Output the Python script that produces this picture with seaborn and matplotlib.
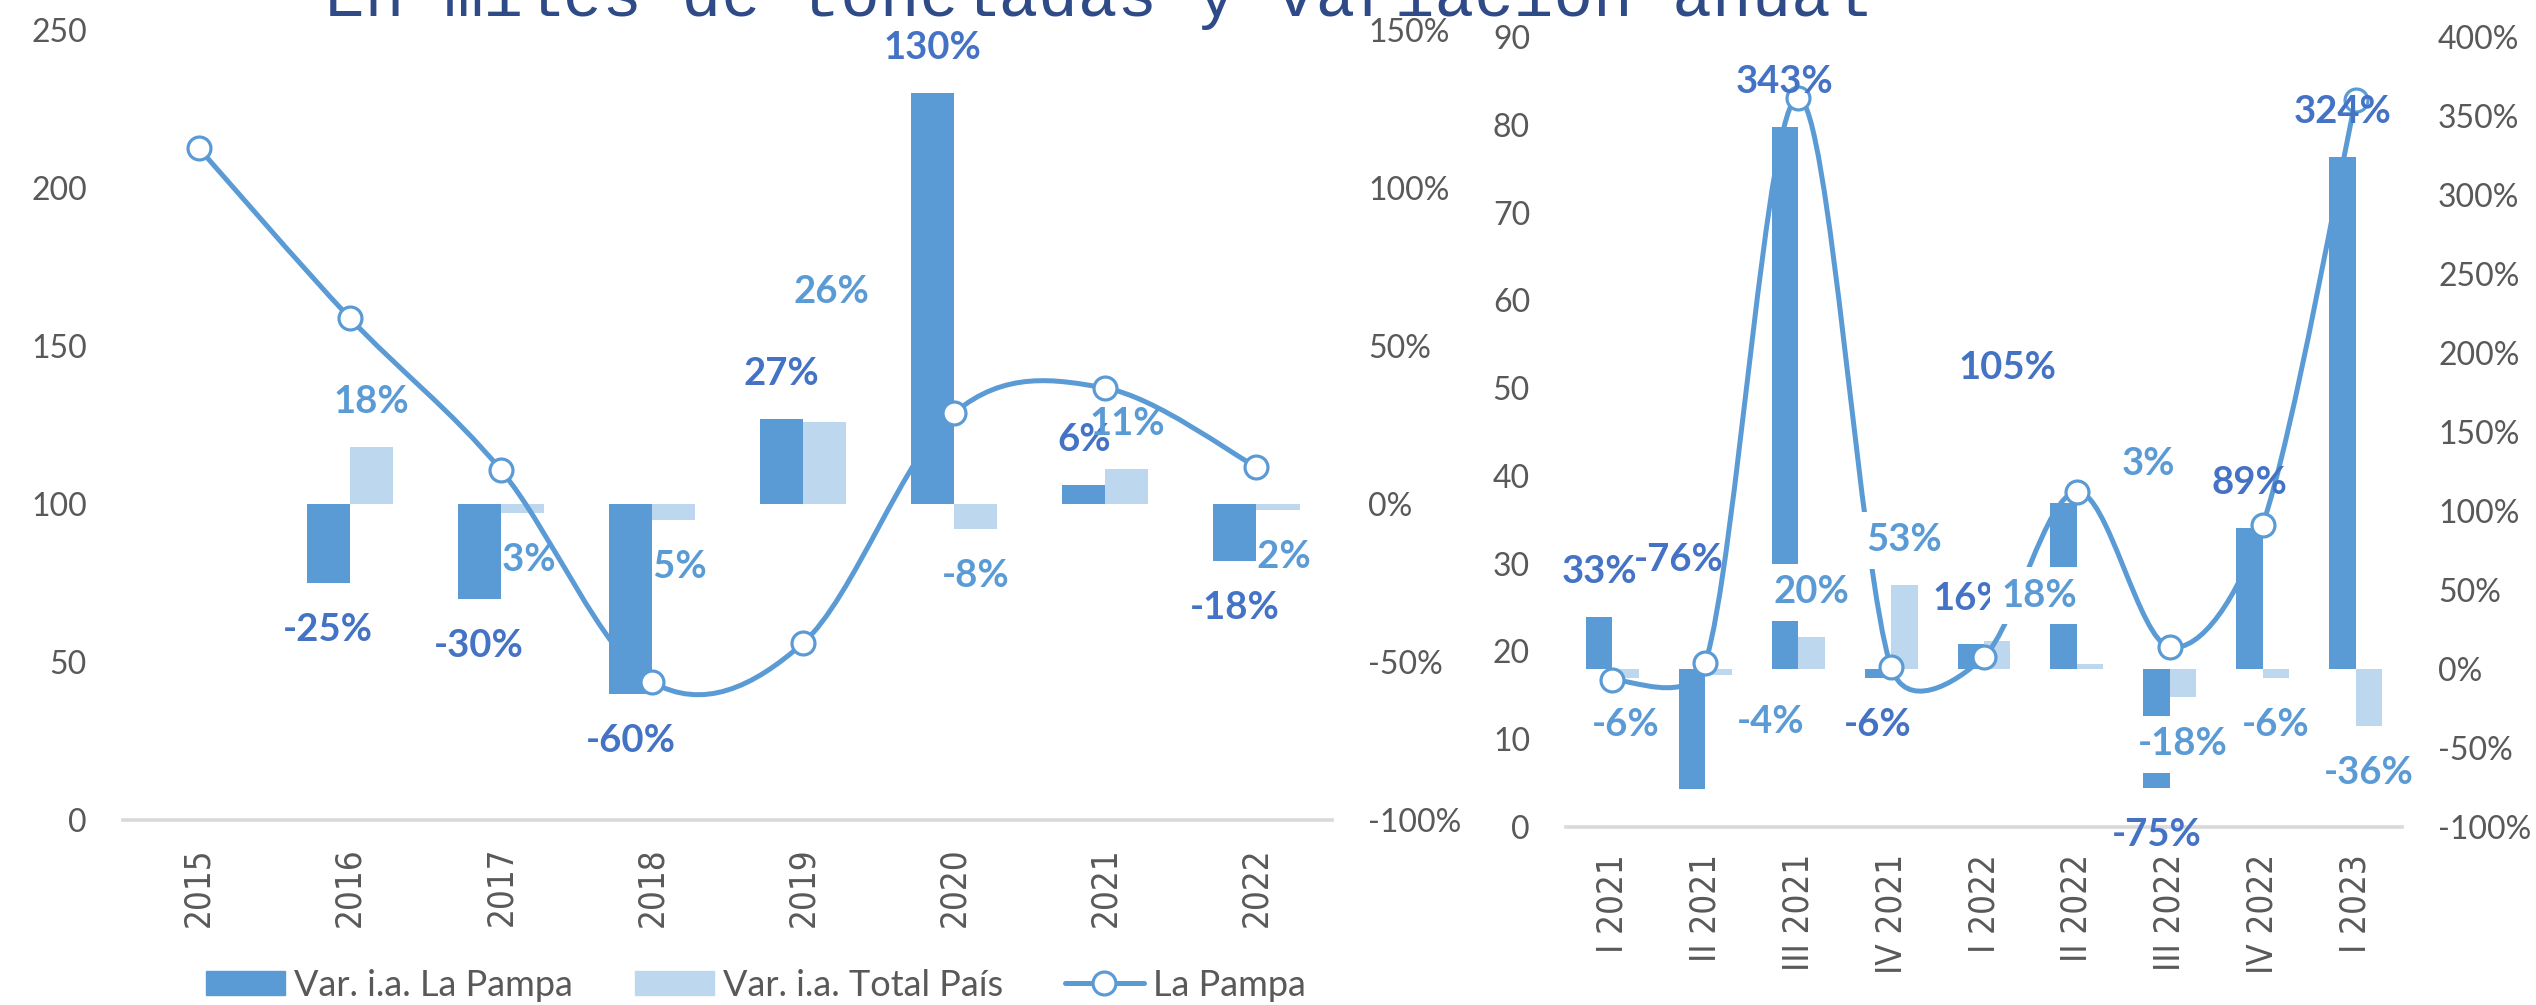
### volumen La Pampa: anual y trimestral

import numpy as np
import pandas as pd
import matplotlib
matplotlib.use("Agg")
import matplotlib.pyplot as plt
import seaborn as sns
from matplotlib.path import Path
from matplotlib.patches import PathPatch, Patch
from matplotlib.lines import Line2D
from matplotlib.ticker import FuncFormatter, MultipleLocator
from matplotlib.font_manager import FontProperties, findfont

# annual panel (miles de toneladas and % var. i.a.)
years = ['2015', '2016', '2017', '2018', '2019', '2020', '2021', '2022']
tons_year = [212.7, 158.9, 110.8, 43.7, 56.0, 128.8, 136.7, 111.7]
var_lp_year = [np.nan, -25, -30, -60, 27, 130, 6, -18]
var_pais_year = [np.nan, 18, -3, -5, 26, -8, 11, -2]

# quarterly panel
quarters = ['I 2021', 'II 2021', 'III 2021', 'IV 2021', 'I 2022',
            'II 2022', 'III 2022', 'IV 2022', 'I 2023']
tons_q = [16.7, 18.7, 83.1, 18.2, 19.4, 38.2, 20.5, 34.4, 82.8]
var_lp_q = [33, -76, 343, -6, 16, 105, -75, 89, 324]
var_pais_q = [-6, -4, 20, 53, 18, 3, -18, -6, -36]

S_LP = 'Var. i.a. La Pampa'
S_PAIS = 'Var. i.a. Total País'
S_LINE = 'La Pampa'
TITLE = 'En miles de toneladas y variación anual'

DARK = '#5B9BD5'
LIGHT = '#BDD7EE'
LBL_DARK = '#4472C4'
GREY = '#595959'

W, H = 2536, 1005
DPI = 100

sns.set_theme(style='white')
plt.rcParams['font.family'] = ['Lato', 'DejaVu Sans']

# x tick labels: condensed DejaVu if the system has it
cond = findfont(FontProperties(family='DejaVu Sans', stretch='condensed'))
XT_STRETCH = 'condensed' if 'Condensed' in cond else 'normal'
XT_SIZE = 25 if XT_STRETCH == 'condensed' else 22.5

fig = plt.figure(figsize=(W / DPI, H / DPI), dpi=DPI)


def px(v):
    # pixels -> points
    return v * 72 / DPI


def excel_smooth(ax, xs, ys):
    # bezier path like Excel's smoothed line (control arm capped at half segment)
    pts = ax.transData.transform(np.column_stack([xs, ys]))
    n = len(pts)
    verts = [pts[0]]
    codes = [Path.MOVETO]
    for i in range(n - 1):
        p0 = pts[i - 1] if i > 0 else pts[i]
        p1, p2 = pts[i], pts[i + 1]
        p3 = pts[i + 2] if i + 2 < n else pts[i + 1]
        half = np.linalg.norm(p2 - p1) / 2
        t1, t2 = p2 - p0, p3 - p1
        f1 = min(1 / 6, half / np.linalg.norm(t1)) if np.linalg.norm(t1) > 0 else 0
        f2 = min(1 / 6, half / np.linalg.norm(t2)) if np.linalg.norm(t2) > 0 else 0
        verts += [p1 + t1 * f1, p2 - t2 * f2, p2]
        codes += [Path.CURVE4] * 3
    verts = ax.transData.inverted().transform(np.array(verts))
    return Path(verts, codes)


def panel(rect, cats, tons, var_lp, var_pais, tons_lim, tons_step, pct_lim,
          pct_step, boxed, nudges):
    n = len(cats)
    ax_b = fig.add_axes(rect)
    ax_l = ax_b.twinx()

    df = pd.DataFrame({'periodo': cats * 2,
                       'serie': [S_LP] * n + [S_PAIS] * n,
                       'valor': list(var_lp) + list(var_pais)})
    sns.barplot(data=df, x='periodo', y='valor', hue='serie', order=cats,
                hue_order=[S_LP, S_PAIS], palette=[DARK, LIGHT], width=0.57,
                saturation=1, errorbar=None, legend=False, linewidth=0,
                ax=ax_b, zorder=2)
    ax_b.set_xlim(-0.5, n - 0.5)
    ax_b.set_ylim(*pct_lim)
    ax_l.set_ylim(*tons_lim)
    ax_b.set_xlabel('')
    ax_b.set_ylabel('')
    ax_l.set_ylabel('')

    ax_b.yaxis.tick_right()
    ax_l.yaxis.tick_left()
    ax_b.yaxis.set_major_locator(MultipleLocator(pct_step))
    ax_b.yaxis.set_major_formatter(FuncFormatter(lambda v, _: f'{v:.0f}%'))
    ax_l.yaxis.set_major_locator(MultipleLocator(tons_step))
    ax_l.yaxis.set_major_formatter(FuncFormatter(lambda v, _: f'{v:.0f}'))
    for a in (ax_b, ax_l):
        a.tick_params(axis='y', length=0, pad=px(36), labelsize=23,
                      labelcolor=GREY)
        for s in a.spines.values():
            s.set_visible(False)
    ax_b.spines['bottom'].set_visible(True)
    ax_b.spines['bottom'].set_color('#D9D9D9')
    ax_b.spines['bottom'].set_linewidth(2.6)
    ax_b.tick_params(axis='x', length=0, pad=px(27), labelsize=XT_SIZE,
                     labelcolor=GREY, labelrotation=90)
    for t in ax_b.get_xticklabels():
        t.set_fontfamily('DejaVu Sans')
        t.set_fontstretch(XT_STRETCH)

    # line with smoothing + hollow markers
    xs = np.arange(n)
    ax_l.add_patch(PathPatch(excel_smooth(ax_l, xs, tons), fill=False,
                             edgecolor=DARK, lw=3.6, zorder=3,
                             capstyle='round'))
    ax_l.plot(xs, tons, ls='none', marker='o', ms=16.5, mfc='white',
              mec=DARK, mew=2.3, zorder=4)

    # data labels
    off = 0.1425
    for key, vals, col, dx0 in (('lp', var_lp, LBL_DARK, -off),
                                ('pais', var_pais, DARK, off)):
        for i, v in enumerate(vals):
            if np.isnan(v):
                continue
            dy = px(45) if v >= 0 else -px(47)
            ndx, ndy = nudges.get((key, i), (0, 0))
            kw = {}
            if boxed and key == 'pais':
                kw['bbox'] = dict(boxstyle='square,pad=0.3', fc='white',
                                  ec='none')
            ax_l.annotate(f'{v:.0f}%', xy=(i + dx0, v),
                          xycoords=ax_b.transData,
                          xytext=(px(ndx), dy + px(ndy)),
                          textcoords='offset points', ha='center',
                          va='center', fontsize=27.5, fontweight='bold',
                          color=col, zorder=6 if key == 'pais' else 5, **kw)
    return ax_b, ax_l


panel([123 / W, 1 - 820 / H, 1209 / W, 790 / H], years, tons_year,
      var_lp_year, var_pais_year, (0, 250), 50, (-100, 150), 50, False,
      {('pais', 4): (7, 85)})

panel([1566 / W, 1 - 827 / H, 836 / W, 790 / H], quarters, tons_q,
      var_lp_q, var_pais_q, (0, 90), 10, (-100, 400), 50, True,
      {('lp', 1): (-13, 276), ('pais', 1): (52, 0), ('pais', 4): (42, 0),
       ('lp', 5): (-56, 90), ('pais', 5): (58, 155)})

fig.text(325 / W, 1 - 16 / H, TITLE, family='Liberation Mono', fontsize=47.5,
         color='#2F4B87', ha='left', va='baseline')

handles = [Patch(color=DARK), Patch(color=LIGHT),
           Line2D([], [], color=DARK, lw=3.6, marker='o', ms=16.5,
                  mfc='white', mec=DARK, mew=2.3)]
fig.legend(handles, [S_LP, S_PAIS, S_LINE], loc='center',
           bbox_to_anchor=(756 / W, 1 - 985 / H), ncol=3, frameon=False,
           fontsize=26, handlelength=2.2, handleheight=0.67,
           handletextpad=0.25, columnspacing=1.7, labelcolor=GREY)

fig.savefig('out.png', dpi=DPI)
